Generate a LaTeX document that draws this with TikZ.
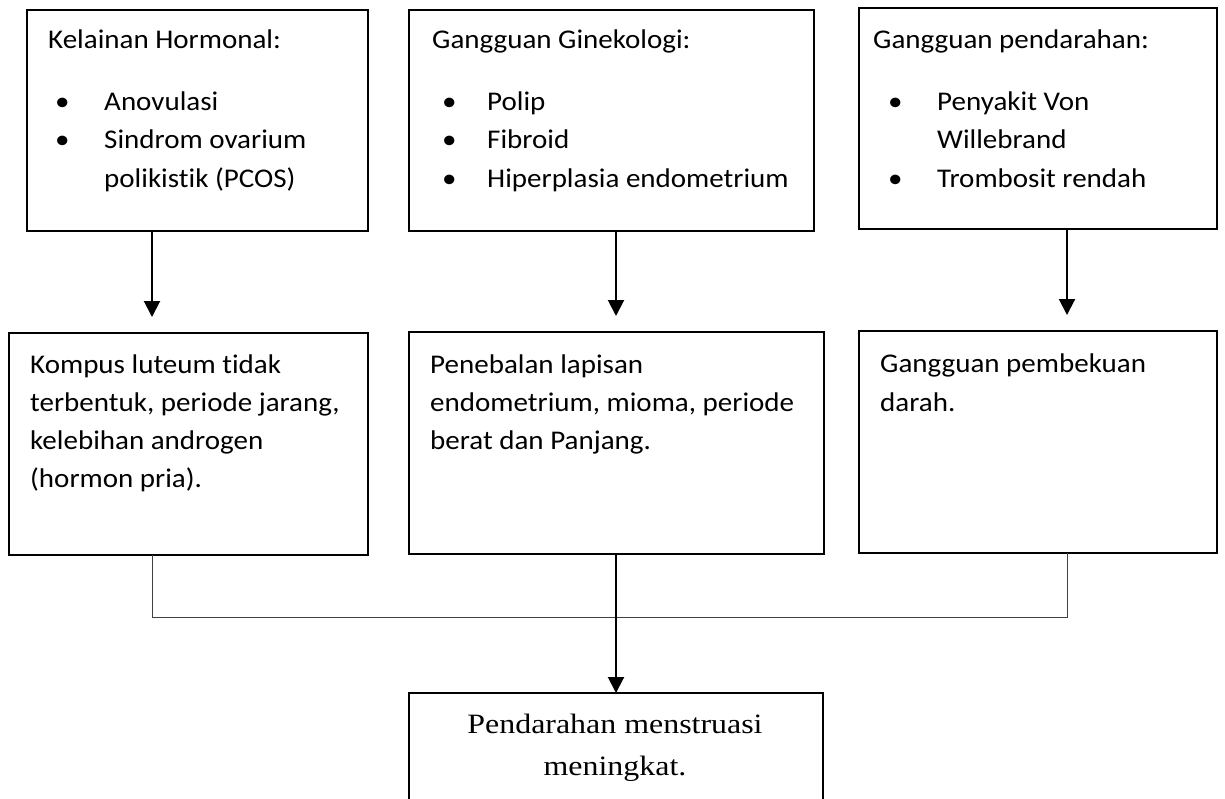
\documentclass[tikz,border=0pt]{standalone}
\usepackage{fontspec}
\setmainfont[Ligatures={NoCommon},FakeStretch=1.075]{Carlito}
\newfontfamily\serifx[FakeStretch=1.14]{Liberation Serif}
\usetikzlibrary{arrows.meta}
\begin{document}
\begin{tikzpicture}[x=1pt,y=-1pt,
  box/.style={draw=black,line width=1.3pt,anchor=north west,inner sep=0pt,outer sep=0pt},
  txt/.style={anchor=base west,inner sep=0pt,font=\fontsize{27}{32}\selectfont},
  bul/.style={anchor=base west,inner sep=0pt,font=\fontsize{27}{32}\selectfont},
  ser/.style={anchor=base,inner sep=0pt,font=\serifx\fontsize{28}{34}\selectfont},
  arr/.style={line width=2pt,-{Triangle[width=16pt,length=16pt]}},
  thinline/.style={line width=1pt,draw=black!75}]
\useasboundingbox (0,0) rectangle (1225,798);
\clip (0,0) rectangle (1225,798);
% boxes
\node[box,minimum width=341pt,minimum height=221pt] (b1) at (27,10) {};
\node[box,minimum width=405pt,minimum height=221pt] (b2) at (409,10) {};
\node[box,minimum width=358pt,minimum height=221pt] (b3) at (859,8) {};
\node[box,minimum width=359pt,minimum height=222pt] (b4) at (9,333) {};
\node[box,minimum width=415pt,minimum height=222pt] (b5) at (409,332) {};
\node[box,minimum width=358pt,minimum height=222pt] (b6) at (859,331) {};
\node[box,minimum width=414pt,minimum height=140pt] (b7) at (409,693) {};
% connector columns
\coordinate (a1) at (152,0);
\coordinate (a2) at (616,0);
\coordinate (a3) at (1067,0);
\coordinate (j) at (0,617);
% box 1 text
\node[txt] (h1) at (48,48) {Kelainan Hormonal:};
\node[bul] (p11) at (55,110) {•};
\node[txt] (t11) at (104,110) {Anovulasi};
\node[bul] (p12) at (55,148) {•};
\node[txt] (t12) at (104,148) {Sindrom ovarium};
\node[txt] (t13) at (104,187) {polikistik (PCOS)};
% box 2 text
\node[txt] (h2) at (432,48) {Gangguan Ginekologi:};
\node[bul] (p21) at (442,110) {•};
\node[txt] (t21) at (487,110) {Polip};
\node[bul] (p22) at (442,148) {•};
\node[txt] (t22) at (487,148) {Fibroid};
\node[bul] (p23) at (442,187) {•};
\node[txt] (t23) at (487,187) {Hiperplasia endometrium};
% box 3 text
\node[txt] (h3) at (873,48) {Gangguan pendarahan:};
\node[bul] (p31) at (888,110) {•};
\node[txt] (t31) at (937,110) {Penyakit Von};
\node[txt] (t32) at (937,148) {Willebrand};
\node[bul] (p32) at (888,187) {•};
\node[txt] (t33) at (937,187) {Trombosit rendah};
% box 4 text
\node[txt] (t41) at (30,373) {Kompus luteum tidak};
\node[txt] (t42) at (30,411) {terbentuk, periode jarang,};
\node[txt] (t43) at (30,449) {kelebihan androgen};
\node[txt] (t44) at (30,487) {(hormon pria).};
% box 5 text
\node[txt] (t51) at (430,373) {Penebalan lapisan};
\node[txt] (t52) at (430,411) {endometrium, mioma, periode};
\node[txt] (t53) at (430,449) {berat dan Panjang.};
% box 6 text
\node[txt] (t61) at (880,372) {Gangguan pembekuan};
\node[txt] (t62) at (880,411) {darah.};
% bottom text
\node[ser] (t71) at (615,733) {Pendarahan menstruasi};
\node[ser] (t72) at (615,775) {meningkat.};
% arrows
\draw[arr,shorten >=16pt] (b1.south -| a1) -- (b4.north -| a1);
\draw[arr,shorten >=16pt] (b2.south -| a2) -- (b5.north -| a2);
\draw[arr,shorten >=16pt] (b3.south -| a3) -- (b6.north -| a3);
\draw[thinline] (b4.south -| a1) |- (j -| a3) -- (b6.south -| a3);
\draw[arr] (b5.south -| a2) -- (b7.north -| a2);
\end{tikzpicture}
\end{document}
